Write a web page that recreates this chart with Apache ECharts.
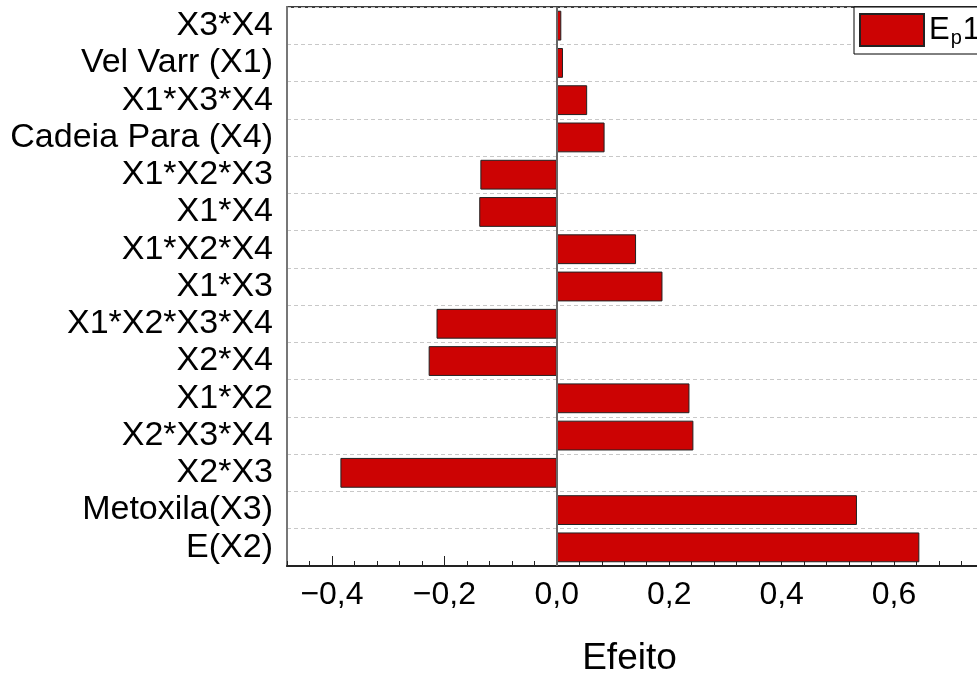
<!DOCTYPE html>
<html>
<head>
<meta charset="utf-8">
<script src="https://cdn.jsdelivr.net/npm/echarts@6/dist/echarts.min.js"></script>
<style>
  html, body { margin: 0; padding: 0; background: #fff; }
  #chart { width: 977px; height: 677px; }
</style>
</head>
<body>
<div id="chart"></div>
<script>
// Effect terms, listed top to bottom
const terms = [
  'X3*X4', 'Vel Varr (X1)', 'X1*X3*X4', 'Cadeia Para (X4)', 'X1*X2*X3',
  'X1*X4', 'X1*X2*X4', 'X1*X3', 'X1*X2*X3*X4', 'X2*X4',
  'X1*X2', 'X2*X3*X4', 'X2*X3', 'Metoxila(X3)', 'E(X2)'
];
// Effect of each term (Ep1)
const effects = [
  0.008, 0.011, 0.054, 0.085, -0.136,
  -0.138, 0.141, 0.188, -0.214, -0.228,
  0.236, 0.243, -0.385, 0.534, 0.645
];
// Labelled ticks on the effect axis
const majorTicks = [-0.4, -0.2, 0.0, 0.2, 0.4, 0.6];

const FONT = '"Liberation Sans", Arial, sans-serif';
const xMin = -0.48, xMax = 0.76;

const fmt = v => (Math.abs(v) < 1e-9 ? 0 : v).toFixed(1).replace('.', ',').replace('-', '\u2212');

const chart = echarts.init(document.getElementById('chart'), null, { renderer: 'canvas' });

chart.setOption({
  animation: false,
  backgroundColor: '#fff',
  textStyle: { fontFamily: FONT },
  grid: {
    left: 287, top: 7, width: 697, height: 559,
    outerBoundsMode: 'none',
    containLabel: false,
    show: true, borderColor: '#000', borderWidth: 1.5, backgroundColor: 'transparent'
  },
  legend: {
    left: 854, top: 7,
    padding: [6, 30, 6, 5],
    itemWidth: 64, itemHeight: 32,
    icon: 'rect',
    borderColor: '#000', borderWidth: 1, borderRadius: 0,
    backgroundColor: '#fff',
    data: ['Ep1'],
    formatter: () => '{a|E}{b|p}{a|1}',
    textStyle: {
      rich: {
        a: { fontSize: 31, color: '#000', fontFamily: FONT },
        b: { fontSize: 20, color: '#000', fontFamily: FONT, padding: [16, 1, 0, 1] }
      }
    }
  },
  xAxis: [
    {
      // minor ticks every 0.04
      type: 'value', position: 'bottom',
      min: xMin, max: xMax, interval: 0.04,
      axisLine: { show: true, onZero: false, lineStyle: { color: '#222', width: 2 } },
      axisTick: { show: true, inside: true, length: 5, lineStyle: { color: '#222', width: 1 } },
      axisLabel: { show: false },
      splitLine: { show: false },
      name: 'Efeito', nameLocation: 'middle', nameGap: 74,
      nameTextStyle: { fontSize: 37, color: '#000', fontFamily: FONT, padding: [0, 12, 0, 0] }
    },
    {
      // major ticks with labels
      type: 'value', position: 'bottom',
      min: xMin, max: xMax,
      axisLine: { show: false, onZero: false },
      axisTick: { show: true, inside: true, length: 10, customValues: majorTicks,
                  lineStyle: { color: '#222', width: 1 } },
      axisLabel: { show: true, customValues: majorTicks, formatter: fmt,
                   fontSize: 32, color: '#000', margin: 13, fontFamily: FONT },
      splitLine: { show: false }
    }
  ],
  yAxis: {
    type: 'category',
    data: terms,
    inverse: true,
    axisLine: { show: true, onZero: false, lineStyle: { color: '#777', width: 2 } },
    axisTick: { show: false },
    axisLabel: { interval: 0, hideOverlap: false, fontSize: 34, color: '#000', margin: 14, fontFamily: FONT },
    splitLine: { show: true, interval: 0, lineStyle: { color: '#c8c8c8', type: [4, 3], width: 1 } }
  },
  series: [{
    name: 'Ep1',
    type: 'bar',
    xAxisIndex: 0,
    data: effects,
    barCategoryGap: '20%',
    itemStyle: { color: '#cc0303', borderColor: '#222', borderWidth: 1 },
    markLine: {
      silent: true,
      symbol: 'none',
      label: { show: false },
      lineStyle: { color: '#666', width: 2, type: 'solid' },
      data: [{ xAxis: 0 }]
    }
  }]
});
</script>
</body>
</html>
